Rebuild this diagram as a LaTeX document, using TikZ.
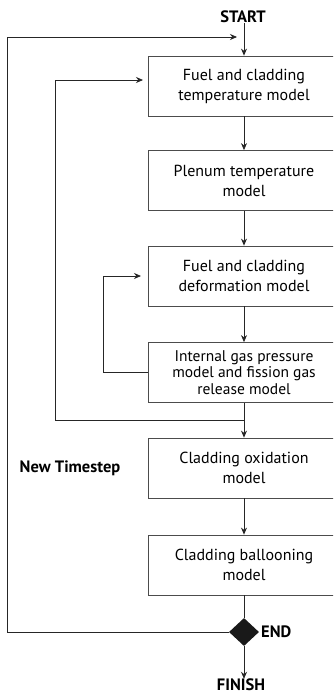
\documentclass[tikz,border=0pt]{standalone}
\usepackage{fontspec}
\setmainfont{PT Sans}
\usetikzlibrary{arrows.meta,shapes.geometric,calc}
\begin{document}
\begin{tikzpicture}[x=1pt,y=-1pt,
  box/.style={draw=black!70, line width=0.8pt, minimum width=192pt, minimum height=60pt, align=center, font=\fontsize{16}{20}\selectfont, inner sep=0pt},
  boxs/.style={box, font=\fontsize{15.5}{16.5}\selectfont},
  conn/.style={draw=black!85, line width=0.8pt},
  arr/.style={conn, -{Stealth[length=7pt,width=6pt]}},
  lbl/.style={font=\bfseries\fontsize{16.5}{18}\selectfont, inner sep=0pt}]
\useasboundingbox (0,0) rectangle (333,694);
\clip (0,0) rectangle (333,694);
\fill[white] (0,0) rectangle (333,694);

\node[lbl] (start) at (243,17) {START};
\node[box] (b1) at (244,86) {Fuel and cladding\\temperature model};
\node[box] (b2) at (244,180.5) {Plenum temperature\\model};
\node[box] (b3) at (244,276) {Fuel and cladding\\deformation model};
\node[boxs] (b4) at (244,372.5) {Internal gas pressure\\model and fission gas\\release model};
\node[box] (b5) at (244,468) {Cladding oxidation\\model};
\node[box] (b6) at (244,565) {Cladding ballooning\\model};
\node[diamond, fill=black!90, minimum width=30pt, minimum height=28pt, inner sep=0pt] (end) at (244,632) {};
\node[lbl, anchor=west] (endl) at (261,632) {END};
\node[lbl] (finish) at (241,685) {FINISH};
\node[lbl] (nts) at (70,468) {New Timestep};

\draw[arr] (b1.north |- start.south) -- (b1.north);
\draw[arr] (b1) -- (b2);
\draw[arr] (b2) -- (b3);
\draw[arr] (b3) -- (b4);
\draw[arr] (b4) -- (b5);
\draw[arr] (b5) -- (b6);
\draw[conn] (b6) -- (end);
\draw[arr] (end.south) -- (end.south |- finish.north);

\coordinate (o1) at (7,632);
\coordinate (o2) at (7,37);
\coordinate (o3) at (237,37);
\draw[arr] (end.west) -- (o1) -- (o2) -- (o3);

\coordinate (m0) at (244,420);
\coordinate (m1) at (55,420);
\coordinate (m2) at (55,80);
\coordinate (m3) at (143,80);
\draw[arr] (m0) -- (m1) -- (m2) -- (m3);

\coordinate (i1) at (103,372.5);
\coordinate (i2) at (103,276);
\coordinate (i3) at (141,276);
\draw[arr] (b4.west) -- (i1) -- (i2) -- (i3);
\end{tikzpicture}
\end{document}
